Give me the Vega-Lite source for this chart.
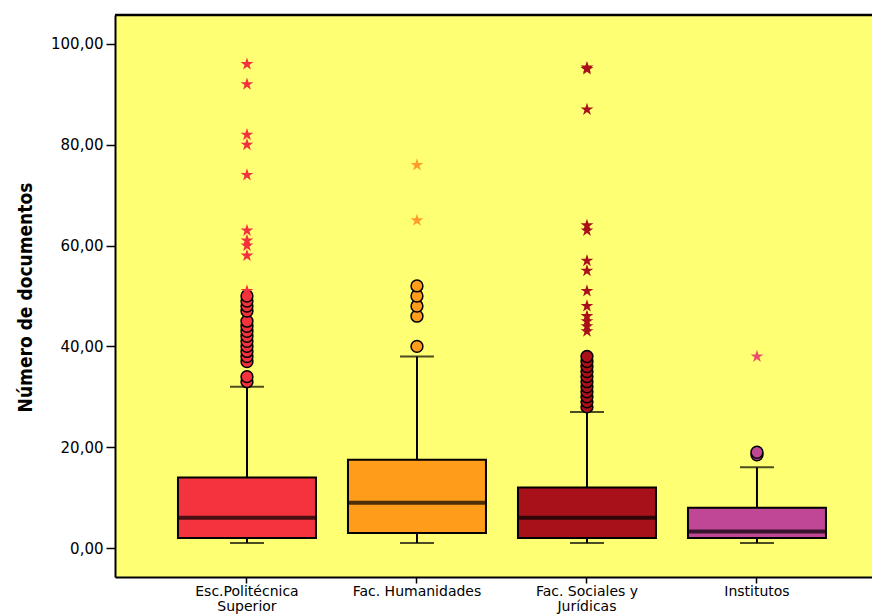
{
  "$schema": "https://vega.github.io/schema/vega-lite/v6.json",
  "width": 757,
  "height": 562,
  "autosize": {"type": "none"},
  "padding": {"left": 115, "top": 15, "right": 0, "bottom": 39},
  "background": "white",
  "config": {
    "view": {"fill": "#FFFF73", "stroke": null},
    "font": "DejaVu Sans"
  },
  "datasets": {
    "boxes": [
      {"centro": "Esc.Politécnica Superior", "lo": 1, "q1": 2, "med": 6, "q3": 14, "hi": 32},
      {"centro": "Fac. Humanidades", "lo": 1, "q1": 3, "med": 9, "q3": 17.5, "hi": 38},
      {"centro": "Fac. Sociales y Jurídicas", "lo": 1, "q1": 2, "med": 6, "q3": 12, "hi": 27},
      {"centro": "Institutos", "lo": 1, "q1": 2, "med": 3.3, "q3": 8, "hi": 16}
    ],
    "outliers": [
      {"centro": "Esc.Politécnica Superior", "valor": 33},
      {"centro": "Esc.Politécnica Superior", "valor": 34},
      {"centro": "Esc.Politécnica Superior", "valor": 37},
      {"centro": "Esc.Politécnica Superior", "valor": 38},
      {"centro": "Esc.Politécnica Superior", "valor": 39},
      {"centro": "Esc.Politécnica Superior", "valor": 40},
      {"centro": "Esc.Politécnica Superior", "valor": 41},
      {"centro": "Esc.Politécnica Superior", "valor": 42},
      {"centro": "Esc.Politécnica Superior", "valor": 43},
      {"centro": "Esc.Politécnica Superior", "valor": 44},
      {"centro": "Esc.Politécnica Superior", "valor": 45},
      {"centro": "Esc.Politécnica Superior", "valor": 47},
      {"centro": "Esc.Politécnica Superior", "valor": 48},
      {"centro": "Esc.Politécnica Superior", "valor": 49},
      {"centro": "Esc.Politécnica Superior", "valor": 50},
      {"centro": "Fac. Humanidades", "valor": 40},
      {"centro": "Fac. Humanidades", "valor": 46},
      {"centro": "Fac. Humanidades", "valor": 48},
      {"centro": "Fac. Humanidades", "valor": 50},
      {"centro": "Fac. Humanidades", "valor": 52},
      {"centro": "Fac. Sociales y Jurídicas", "valor": 28},
      {"centro": "Fac. Sociales y Jurídicas", "valor": 29},
      {"centro": "Fac. Sociales y Jurídicas", "valor": 30},
      {"centro": "Fac. Sociales y Jurídicas", "valor": 31},
      {"centro": "Fac. Sociales y Jurídicas", "valor": 32},
      {"centro": "Fac. Sociales y Jurídicas", "valor": 33},
      {"centro": "Fac. Sociales y Jurídicas", "valor": 34},
      {"centro": "Fac. Sociales y Jurídicas", "valor": 35},
      {"centro": "Fac. Sociales y Jurídicas", "valor": 36},
      {"centro": "Fac. Sociales y Jurídicas", "valor": 37},
      {"centro": "Fac. Sociales y Jurídicas", "valor": 38},
      {"centro": "Institutos", "valor": 18.5},
      {"centro": "Institutos", "valor": 19}
    ],
    "extremes": [
      {"centro": "Esc.Politécnica Superior", "valor": 51},
      {"centro": "Esc.Politécnica Superior", "valor": 58},
      {"centro": "Esc.Politécnica Superior", "valor": 60},
      {"centro": "Esc.Politécnica Superior", "valor": 61},
      {"centro": "Esc.Politécnica Superior", "valor": 63},
      {"centro": "Esc.Politécnica Superior", "valor": 74},
      {"centro": "Esc.Politécnica Superior", "valor": 80},
      {"centro": "Esc.Politécnica Superior", "valor": 82},
      {"centro": "Esc.Politécnica Superior", "valor": 92},
      {"centro": "Esc.Politécnica Superior", "valor": 96},
      {"centro": "Fac. Humanidades", "valor": 65},
      {"centro": "Fac. Humanidades", "valor": 76},
      {"centro": "Fac. Sociales y Jurídicas", "valor": 43},
      {"centro": "Fac. Sociales y Jurídicas", "valor": 44},
      {"centro": "Fac. Sociales y Jurídicas", "valor": 45},
      {"centro": "Fac. Sociales y Jurídicas", "valor": 46},
      {"centro": "Fac. Sociales y Jurídicas", "valor": 48},
      {"centro": "Fac. Sociales y Jurídicas", "valor": 51},
      {"centro": "Fac. Sociales y Jurídicas", "valor": 55},
      {"centro": "Fac. Sociales y Jurídicas", "valor": 57},
      {"centro": "Fac. Sociales y Jurídicas", "valor": 63},
      {"centro": "Fac. Sociales y Jurídicas", "valor": 64},
      {"centro": "Fac. Sociales y Jurídicas", "valor": 87},
      {"centro": "Fac. Sociales y Jurídicas", "valor": 95},
      {"centro": "Fac. Sociales y Jurídicas", "valor": 95.3},
      {"centro": "Institutos", "valor": 38}
    ],
    "marco": [{"tope": 105.75}]
  },
  "layer": [
    {
      "data": {"name": "boxes"},
      "mark": {"type": "rule", "color": "black", "strokeWidth": 2},
      "encoding": {
        "x": {
          "field": "centro",
          "type": "nominal",
          "sort": ["Esc.Politécnica Superior", "Fac. Humanidades", "Fac. Sociales y Jurídicas", "Institutos"],
          "scale": {"paddingInner": 0, "paddingOuter": 0.2265, "align": 0.61},
          "axis": {
            "title": null,
            "labelAngle": 0,
            "labelFont": "DejaVu Sans",
            "labelFontSize": 14,
            "labelColor": "black",
            "labelPadding": 1,
            "labelLineHeight": 15,
            "labelExpr": "datum.value == 'Esc.Politécnica Superior' ? ['Esc.Politécnica', 'Superior'] : datum.value == 'Fac. Sociales y Jurídicas' ? ['Fac. Sociales y', 'Jurídicas'] : datum.value",
            "domain": true,
            "domainColor": "black",
            "domainWidth": 2,
            "ticks": true,
            "tickColor": "black",
            "tickWidth": 1.5,
            "tickSize": 6,
            "grid": false
          }
        },
        "y": {
          "field": "lo",
          "type": "quantitative",
          "scale": {"domain": [-5.75, 105.75], "nice": false, "zero": false},
          "axis": {
            "title": "Número de documentos",
            "titleFont": "Liberation Sans Narrow, DejaVu Sans Condensed, sans-serif",
            "titleFontSize": 19,
            "titleFontWeight": "bold",
            "titleColor": "black",
            "titleAngle": -90,
            "titleX": -90,
            "titleY": 282,
            "titleAlign": "center",
            "titleBaseline": "middle",
            "values": [0, 20, 40, 60, 80, 100],
            "labelExpr": "replace(format(datum.value, '.2f'), '.', ',')",
            "labelFont": "DejaVu Sans",
            "labelFontSize": 15,
            "labelColor": "black",
            "labelPadding": 3,
            "domain": true,
            "domainColor": "black",
            "domainWidth": 2,
            "tickColor": "black",
            "tickWidth": 1.5,
            "tickSize": 9,
            "grid": false
          }
        },
        "y2": {"field": "hi"}
      }
    },
    {
      "data": {"name": "boxes"},
      "mark": {"type": "bar", "size": 138, "stroke": "black", "strokeWidth": 2},
      "encoding": {
        "x": {"field": "centro", "type": "nominal"},
        "y": {"field": "q1", "type": "quantitative"},
        "y2": {"field": "q3"},
        "color": {
          "field": "centro",
          "type": "nominal",
          "scale": {
            "domain": ["Esc.Politécnica Superior", "Fac. Humanidades", "Fac. Sociales y Jurídicas", "Institutos"],
            "range": ["#F5333F", "#FF9C1A", "#A8111A", "#BF4796"]
          },
          "legend": null
        }
      }
    },
    {
      "data": {"name": "boxes"},
      "mark": {"type": "tick", "size": 138, "thickness": 4, "color": "black"},
      "encoding": {
        "x": {"field": "centro", "type": "nominal"},
        "y": {"field": "med", "type": "quantitative"}
      }
    },
    {
      "data": {"name": "boxes"},
      "mark": {"type": "tick", "size": 34, "thickness": 2, "color": "black"},
      "encoding": {
        "x": {"field": "centro", "type": "nominal"},
        "y": {"field": "lo", "type": "quantitative"}
      }
    },
    {
      "data": {"name": "boxes"},
      "mark": {"type": "tick", "size": 34, "thickness": 2, "color": "black"},
      "encoding": {
        "x": {"field": "centro", "type": "nominal"},
        "y": {"field": "hi", "type": "quantitative"}
      }
    },
    {
      "data": {"name": "outliers"},
      "mark": {"type": "point", "shape": "circle", "filled": true, "size": 140, "stroke": "black", "strokeWidth": 1.5, "opacity": 1},
      "encoding": {
        "x": {"field": "centro", "type": "nominal"},
        "y": {"field": "valor", "type": "quantitative"},
        "color": {"field": "centro", "type": "nominal", "legend": null}
      }
    },
    {
      "data": {"name": "extremes"},
      "mark": {"type": "point", "shape": "M0,-1L0.2245,-0.309L0.951,-0.309L0.363,0.118L0.588,0.809L0,0.382L-0.588,0.809L-0.363,0.118L-0.951,-0.309L-0.2245,-0.309Z", "filled": true, "size": 180, "opacity": 1},
      "encoding": {
        "x": {"field": "centro", "type": "nominal"},
        "y": {"field": "valor", "type": "quantitative"},
        "fill": {
          "field": "centro",
          "type": "nominal",
          "scale": {
            "domain": ["Esc.Politécnica Superior", "Fac. Humanidades", "Fac. Sociales y Jurídicas", "Institutos"],
            "range": ["#F2303E", "#FF9C2A", "#A8111A", "#E8506A"]
          },
          "legend": null
        }
      }
    },
    {
      "data": {"name": "marco"},
      "mark": {"type": "rule", "color": "black", "strokeWidth": 2.5},
      "encoding": {
        "y": {"field": "tope", "type": "quantitative"}
      }
    }
  ]
}
